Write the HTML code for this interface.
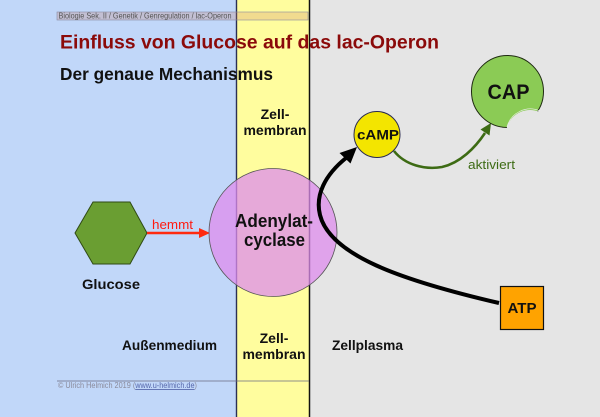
<!DOCTYPE html>
<html><head><meta charset="utf-8"><style>
html,body{margin:0;padding:0;background:#e5e5e5;}
svg{display:block;}
text{font-family:"Liberation Sans",Arial,sans-serif;}
</style></head><body>
<svg width="600" height="417" viewBox="0 0 600 417" xmlns="http://www.w3.org/2000/svg">
  <!-- backgrounds -->
  <rect x="0" y="0" width="600" height="417" fill="#e5e5e5"/>
  <rect x="0" y="0" width="237" height="417" fill="#c1d7f9"/>
  <rect x="237" y="0" width="73" height="417" fill="#fffd9e"/>
  <line x1="236.5" y1="0" x2="236.5" y2="417" stroke="#2a2f55" stroke-width="1.4"/>
  <line x1="309.5" y1="0" x2="309.5" y2="417" stroke="#111" stroke-width="1.5"/>

  <!-- header bar -->
  <rect x="57" y="12" width="251" height="8" fill="rgba(200,120,100,0.25)" stroke="#8a8aa0" stroke-width="0.6"/>
  <text x="58.5" y="18.7" font-size="8.6" fill="#555" textLength="173" lengthAdjust="spacingAndGlyphs">Biologie Sek. II / Genetik / Genregulation / lac-Operon</text>

  <!-- titles -->
  <text x="60" y="48.5" font-size="19" font-weight="bold" fill="#8b0a0a" textLength="379" lengthAdjust="spacingAndGlyphs">Einfluss von Glucose auf das lac-Operon</text>
  <text x="60" y="80" font-size="17.5" font-weight="bold" fill="#111" textLength="213" lengthAdjust="spacingAndGlyphs">Der genaue Mechanismus</text>

  <!-- membrane labels top -->
  <text x="275" y="119" font-size="14" font-weight="bold" fill="#111" text-anchor="middle">Zell-</text>
  <text x="275" y="135" font-size="14" font-weight="bold" fill="#111" text-anchor="middle">membran</text>

  <!-- Glucose hexagon -->
  <polygon points="75,233 93,202 130,202 147,233 130,264 93,264" fill="#6a9e32" stroke="#2f4a14" stroke-width="1"/>
  <text x="82" y="289" font-size="14" font-weight="bold" fill="#111" textLength="58" lengthAdjust="spacingAndGlyphs">Glucose</text>

  <!-- red arrow -->
  <line x1="147" y1="233" x2="201" y2="233" stroke="#ff2a10" stroke-width="2.5"/>
  <polygon points="210,233 199,228 199,238" fill="#ff2a10"/>
  <text x="152" y="229" font-size="13" fill="#ff1a10" textLength="41" lengthAdjust="spacingAndGlyphs">hemmt</text>

  <!-- Adenylatcyclase circle (translucent) -->
  <circle cx="273" cy="232.5" r="64" fill="rgba(222,140,236,0.75)" stroke="#555" stroke-width="0.8"/>
  <text x="274" y="227" font-size="18" font-weight="bold" fill="#111" text-anchor="middle" textLength="78" lengthAdjust="spacingAndGlyphs">Adenylat-</text>
  <text x="274.5" y="246" font-size="18" font-weight="bold" fill="#111" text-anchor="middle" textLength="61" lengthAdjust="spacingAndGlyphs">cyclase</text>

  <!-- black arrow ATP -> cAMP -->
  <path d="M499,303 C400,280 330,255 320,215 C315,195 325,175 346,158" fill="none" stroke="#000" stroke-width="4"/>
  <polygon points="357,147 350.5,163.5 339.5,153" fill="#000"/>

  <!-- cAMP -->
  <circle cx="377" cy="134.5" r="23" fill="#f3e500" stroke="#2a2a50" stroke-width="1"/>
  <text x="378" y="139.5" font-size="14" font-weight="bold" fill="#111" text-anchor="middle" textLength="42" lengthAdjust="spacingAndGlyphs">cAMP</text>

  <!-- green arrow -->
  <path d="M394,151 C405,165 425,170 442,167 C460,163 475,148 485,133" fill="none" stroke="#3d6b14" stroke-width="2.6"/>
  <polygon points="491,123 489.5,135.5 480.5,129.5" fill="#3d6b14"/>
  <text x="468" y="169" font-size="13" fill="#3d6b14" textLength="47" lengthAdjust="spacingAndGlyphs">aktiviert</text>

  <!-- CAP -->
  <circle cx="507.5" cy="91.5" r="36" fill="#8bcb55" stroke="#1e2a10" stroke-width="1"/>
  <circle cx="530" cy="134" r="24" fill="#e5e5e5"/>
  <path d="M507,127 A24,24 0 0 1 540,111" fill="none" stroke="#f2f2f2" stroke-width="0.6"/>
  <text x="508.5" y="99" font-size="21" font-weight="bold" fill="#111" text-anchor="middle" textLength="42" lengthAdjust="spacingAndGlyphs">CAP</text>

  <!-- ATP -->
  <rect x="500.5" y="286.5" width="43" height="43" fill="#ffa300" stroke="#111" stroke-width="1.2"/>
  <text x="522" y="313" font-size="15" font-weight="bold" fill="#111" text-anchor="middle" textLength="29" lengthAdjust="spacingAndGlyphs">ATP</text>

  <!-- bottom labels -->
  <text x="122" y="350" font-size="14" font-weight="bold" fill="#111" textLength="95" lengthAdjust="spacingAndGlyphs">Außenmedium</text>
  <text x="274" y="343" font-size="14" font-weight="bold" fill="#111" text-anchor="middle">Zell-</text>
  <text x="274" y="359" font-size="14" font-weight="bold" fill="#111" text-anchor="middle">membran</text>
  <text x="332" y="350" font-size="14" font-weight="bold" fill="#111" textLength="71" lengthAdjust="spacingAndGlyphs">Zellplasma</text>

  <!-- footer -->
  <line x1="57" y1="381" x2="309" y2="381" stroke="#6a6a80" stroke-width="0.8"/>
  <text x="58" y="388" font-size="8.6" fill="#8a8a9a" textLength="139" lengthAdjust="spacingAndGlyphs">© Ulrich Helmich 2019 (<tspan fill="#5566aa" text-decoration="underline">www.u-helmich.de</tspan>)</text>
</svg>
</body></html>
